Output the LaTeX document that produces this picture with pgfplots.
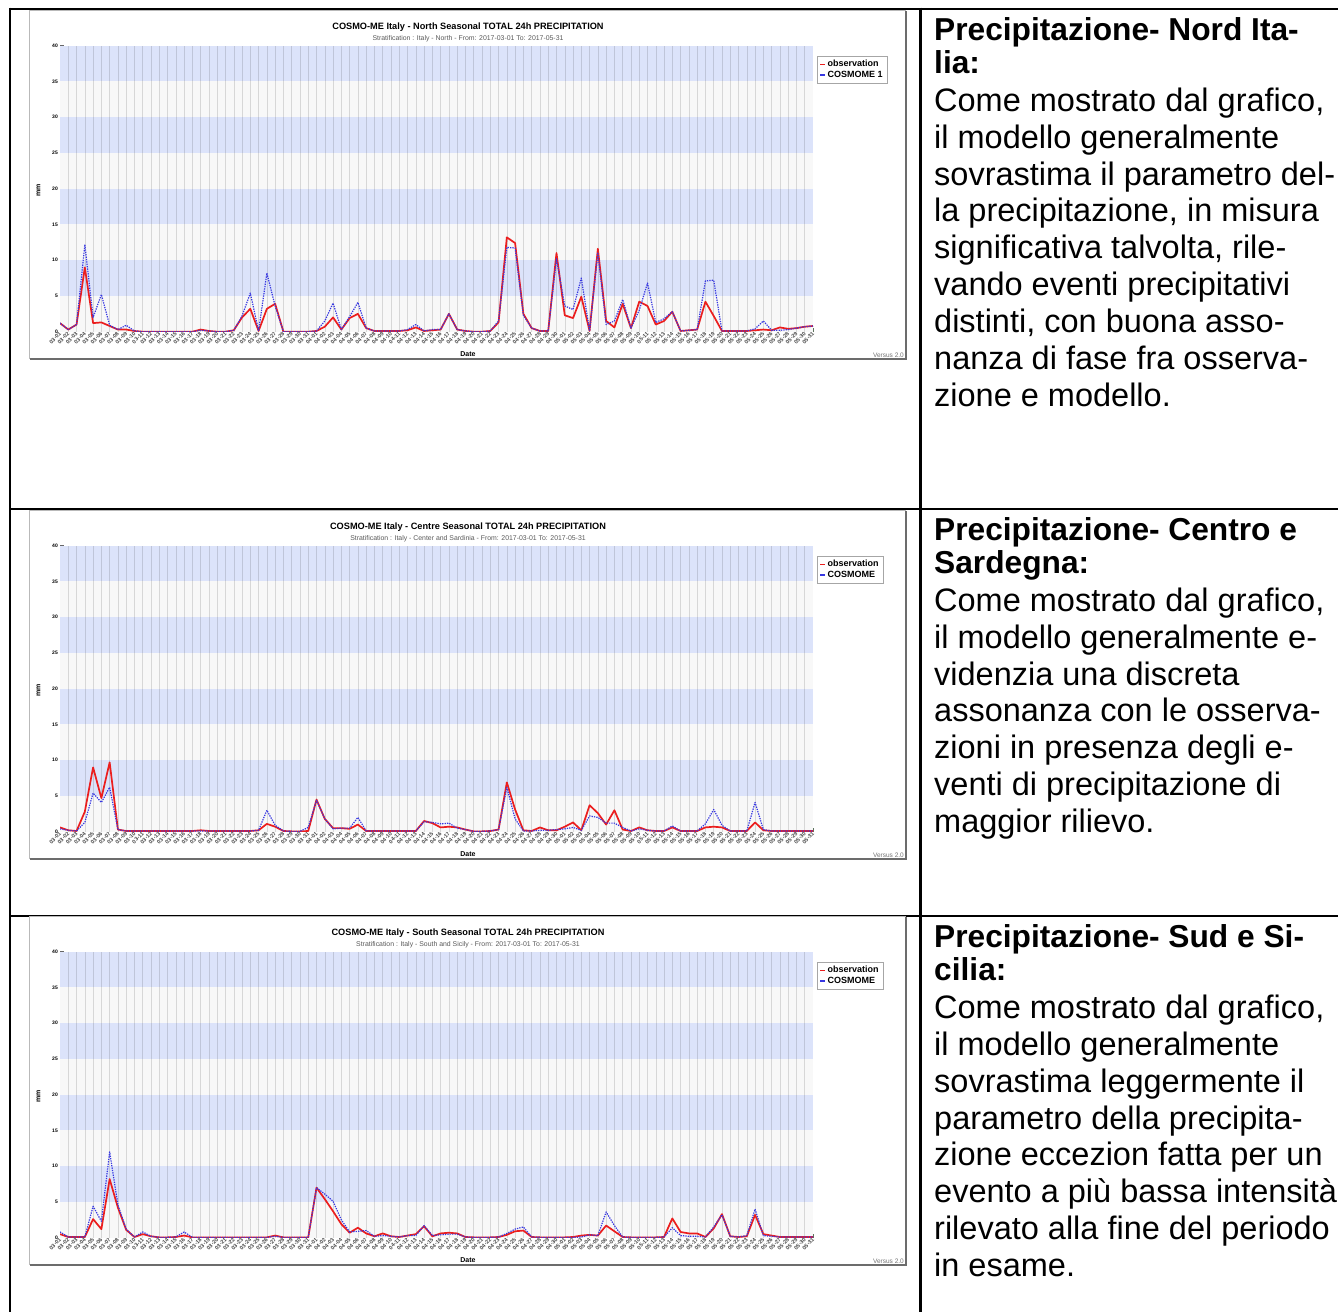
\documentclass[border=0pt]{standalone}
\usepackage{pgfplots}
\pgfplotsset{compat=1.18}
\usepackage{pgfplotstable}
\usepackage{fontspec}
\setmainfont{Liberation Sans}

\definecolor{bandblue}{RGB}{220,227,250}
\definecolor{bandgray}{RGB}{248,248,248}
\definecolor{obsred}{RGB}{235,30,30}
\definecolor{modblue}{RGB}{55,55,225}
\definecolor{tickgreen}{RGB}{95,115,95}

\pgfplotstableread{
x obs mod
0 1.2 1.2
1 0.3 0.3
2 1.0 1.0
3 9.0 12.2
4 1.2 2.0
5 1.3 5.2
6 0.8 0.9
7 0.3 0.3
8 0.3 0.9
9 0.1 0.1
10 0.0 0.0
11 0.0 0.0
12 0.0 0.0
13 0.0 0.0
14 0.0 0.0
15 0.0 0.0
16 0.0 0.0
17 0.3 0.2
18 0.1 0.1
19 0.0 0.0
20 0.0 0.0
21 0.2 0.2
22 2.0 2.2
23 3.2 5.4
24 0.1 0.1
25 3.2 8.2
26 3.9 3.6
27 0.0 0.0
28 0.0 0.0
29 0.0 0.0
30 0.0 0.0
31 0.1 0.1
32 0.7 1.5
33 2.0 4.0
34 0.3 0.3
35 1.9 2.1
36 2.5 4.1
37 0.5 0.5
38 0.1 0.1
39 0.1 0.1
40 0.1 0.1
41 0.1 0.1
42 0.2 0.3
43 0.6 1.0
44 0.1 0.1
45 0.2 0.3
46 0.3 0.3
47 2.5 2.5
48 0.3 0.3
49 0.1 0.1
50 0.0 0.0
51 0.0 0.0
52 0.1 0.1
53 1.3 1.5
54 13.2 11.8
55 12.4 11.7
56 2.5 2.3
57 0.5 0.5
58 0.1 0.1
59 0.1 0.1
60 11.0 10.2
61 2.3 3.6
62 1.9 3.1
63 4.9 7.5
64 0.1 0.1
65 11.6 11.0
66 1.5 1.0
67 0.6 1.5
68 3.9 4.5
69 0.5 0.5
70 4.2 3.0
71 3.6 6.8
72 1.0 1.3
73 1.5 1.8
74 2.8 2.8
75 0.1 0.1
76 0.2 0.2
77 0.3 0.3
78 4.2 7.1
79 2.2 7.2
80 0.1 0.1
81 0.1 0.1
82 0.1 0.1
83 0.1 0.1
84 0.2 0.4
85 0.3 1.5
86 0.2 0.2
87 0.6 0.2
88 0.4 0.3
89 0.5 0.5
90 0.7 0.7
91 0.8 0.8
}\north

\pgfplotstableread{
x obs mod
0 0.6 0.4
1 0.2 0.2
2 0.1 0.1
3 2.8 1.3
4 9.0 5.4
5 4.7 4.1
6 9.7 6.2
7 0.3 0.3
8 0.1 0.1
9 0.1 0.1
10 0.1 0.1
11 0.1 0.1
12 0.1 0.1
13 0.1 0.1
14 0.1 0.1
15 0.1 0.1
16 0.1 0.1
17 0.2 0.1
18 0.1 0.1
19 0.1 0.1
20 0.1 0.1
21 0.1 0.1
22 0.1 0.1
23 0.1 0.1
24 0.2 0.2
25 1.1 3.0
26 0.7 0.9
27 0.1 0.1
28 0.05 0.05
29 0.05 0.05
30 0.1 0.6
31 4.5 4.4
32 1.8 1.8
33 0.5 0.4
34 0.5 0.5
35 0.4 0.5
36 1.0 2.0
37 0.1 0.1
38 0.1 0.1
39 0.1 0.1
40 0.1 0.1
41 0.1 0.1
42 0.1 0.1
43 0.1 0.1
44 1.5 1.4
45 1.2 1.3
46 0.6 1.1
47 0.7 1.2
48 0.6 0.5
49 0.3 0.3
50 0.05 0.05
51 0.05 0.05
52 0.1 0.1
53 0.3 0.3
54 6.9 6.2
55 3.1 1.8
56 0.2 0.1
57 0.1 0.1
58 0.6 0.2
59 0.2 0.2
60 0.2 0.3
61 0.7 0.4
62 1.3 0.6
63 0.2 0.2
64 3.7 2.2
65 2.6 2.0
66 1.0 1.2
67 3.0 1.2
68 0.3 0.6
69 0.1 0.1
70 0.6 0.4
71 0.2 0.2
72 0.1 0.1
73 0.1 0.1
74 0.6 0.8
75 0.1 0.1
76 0.1 0.1
77 0.1 0.1
78 0.6 1.1
79 0.7 3.1
80 0.6 0.9
81 0.1 0.1
82 0.1 0.1
83 0.1 0.1
84 1.3 4.1
85 0.2 0.3
86 0.1 0.1
87 0.1 0.1
88 0.1 0.1
89 0.1 0.1
90 0.1 0.1
91 0.1 0.1
}\centre

\pgfplotstableread{
x obs mod
0 0.5 0.8
1 0.1 0.1
2 0.1 0.1
3 0.1 0.1
4 2.6 4.4
5 1.2 2.3
6 8.2 12.0
7 4.2 4.6
8 1.1 1.2
9 0.1 0.1
10 0.5 0.8
11 0.2 0.2
12 0.05 0.05
13 0.05 0.05
14 0.1 0.1
15 0.3 0.8
16 0.05 0.05
17 0.05 0.05
18 0.05 0.05
19 0.05 0.05
20 0.05 0.05
21 0.05 0.05
22 0.05 0.05
23 0.05 0.05
24 0.05 0.05
25 0.05 0.05
26 0.3 0.2
27 0.05 0.05
28 0.05 0.05
29 0.05 0.05
30 0.05 0.05
31 7.0 7.0
32 5.4 6.1
33 3.7 5.1
34 1.9 2.5
35 0.7 0.8
36 1.4 0.9
37 0.6 1.0
38 0.2 0.2
39 0.6 0.3
40 0.2 0.2
41 0.1 0.1
42 0.3 0.3
43 0.5 0.3
44 1.6 1.7
45 0.2 0.3
46 0.6 0.4
47 0.7 0.5
48 0.6 0.5
49 0.1 0.1
50 0.05 0.05
51 0.05 0.05
52 0.05 0.05
53 0.1 0.1
54 0.4 0.6
55 0.9 1.2
56 1.0 1.5
57 0.1 0.1
58 0.05 0.05
59 0.05 0.05
60 0.05 0.05
61 0.05 0.05
62 0.1 0.05
63 0.3 0.1
64 0.4 0.4
65 0.3 0.3
66 1.7 3.6
67 0.9 1.7
68 0.1 0.1
69 0.05 0.05
70 0.05 0.05
71 0.05 0.05
72 0.05 0.05
73 0.1 0.1
74 2.7 1.4
75 0.8 0.3
76 0.6 0.2
77 0.6 0.2
78 0.1 0.1
79 1.3 1.5
80 3.3 3.2
81 0.2 0.2
82 0.1 0.1
83 0.2 0.3
84 3.2 4.0
85 0.5 0.3
86 0.3 0.2
87 0.1 0.1
88 0.1 0.1
89 0.1 0.1
90 0.1 0.1
91 0.1 0.1
}\south

\pgfplotsset{
  chart/.style={
    scale only axis, width=753bp, height=286bp,
    anchor=south west,
    xmin=0, xmax=91, ymin=0, ymax=40,
    axis x line*=bottom, axis y line*=left,
    axis line style={black!60, line width=0.6bp},
    xtick={0,...,91},
    xticklabels={03-01,03-02,03-03,03-04,03-05,03-06,03-07,03-08,03-09,03-10,03-11,03-12,03-13,03-14,03-15,03-16,03-17,03-18,03-19,03-20,03-21,03-22,03-23,03-24,03-25,03-26,03-27,03-28,03-29,03-30,03-31,04-01,04-02,04-03,04-04,04-05,04-06,04-07,04-08,04-09,04-10,04-11,04-12,04-13,04-14,04-15,04-16,04-17,04-18,04-19,04-20,04-21,04-22,04-23,04-24,04-25,04-26,04-27,04-28,04-29,04-30,05-01,05-02,05-03,05-04,05-05,05-06,05-07,05-08,05-09,05-10,05-11,05-12,05-13,05-14,05-15,05-16,05-17,05-18,05-19,05-20,05-21,05-22,05-23,05-24,05-25,05-26,05-27,05-28,05-29,05-30,05-31},
    x tick label style={rotate=45, anchor=east, font=\fontsize{5.5bp}{5.5bp}\selectfont\bfseries, text=black!70, inner sep=0.6bp, yshift=-1bp},
    ytick={0,5,...,40}, minor y tick num=4,
    y tick label style={font=\fontsize{5bp}{5bp}\selectfont\bfseries, inner sep=2bp},
    /pgf/number format/assume math mode=true,
    x tick style={tickgreen, line width=0.6bp},
    y tick style={black!60, line width=0.5bp},
    tick align=inside,
    major tick length=3.5bp, minor tick length=2bp,
    legend cell align=left,
    legend style={at={(1,1)}, anchor=north west, xshift=4bp, yshift=-10bp,
      font=\fontsize{9bp}{10bp}\selectfont\bfseries, draw=gray!70, line width=0.9bp,
      fill=white, inner xsep=2bp, inner ysep=3.5bp, row sep=2bp,
      nodes={inner xsep=2.5bp, inner ysep=0.5bp}},
    legend image code/.code={\draw[##1, solid, line width=1.2bp] (0bp,0bp) -- (4.5bp,0bp);},
    obs/.style={obsred, line width=1.7bp, line join=round},
    mod/.style={modblue, line width=1.2bp, dash pattern=on 1.3bp off 1.1bp, line join=round},
  }
}

\newcommand\bands{%
  \fill[bandgray] (axis cs:0,0) rectangle (axis cs:91,40);
  \fill[bandblue] (axis cs:0,5) rectangle (axis cs:91,10);
  \fill[bandblue] (axis cs:0,15) rectangle (axis cs:91,20);
  \fill[bandblue] (axis cs:0,25) rectangle (axis cs:91,30);
  \fill[bandblue] (axis cs:0,35) rectangle (axis cs:91,40);
  \pgfplotsinvokeforeach{1,...,90}{\draw[black, opacity=0.13, line width=0.5bp] (axis cs:##1,0) -- (axis cs:##1,40);}
}

\newcommand\chartframe[3]{%
  \begin{scope}[x=1bp,y=-1bp,yshift=-#1bp]
    \draw[gray!55, line width=1bp] (29,10) rectangle (905,358);
    \draw[gray!85!black, line width=1.6bp] (30,359) -- (906,359) -- (906,11);
    \node[font=\fontsize{9.2bp}{9.5bp}\selectfont\bfseries, inner sep=0] at (468,26.7) {#2};
    \node[font=\fontsize{6.9bp}{7bp}\selectfont, text=black!65, inner sep=0] at (468,38.3) {#3};
    \node[font=\fontsize{7bp}{7bp}\selectfont\bfseries, rotate=90, inner sep=0] at (38.5,190) {mm};
    \node[font=\fontsize{7bp}{7bp}\selectfont\bfseries, inner sep=0] at (468,354) {Date};
    \node[font=\fontsize{6.5bp}{7bp}\selectfont, text=black!55, inner sep=0, anchor=east] at (904,355.5) {Versus 2.0};
  \end{scope}}

\newcommand\bodyfont{\fontsize{32.5bp}{36.9bp}\selectfont}
\newcommand\boldfont{\fontsize{31.7bp}{36.9bp}\selectfont\bfseries}
\newcommand\rowtext[4]{% #1 top, #2 bold line1, #3 bold line2, #4 body list
  \begin{scope}[x=1bp,y=-1bp]
    \node[anchor=base west, inner sep=0, font=\boldfont] at (934,{#1+31.5}) {#2};
    \node[anchor=base west, inner sep=0, font=\boldfont] at (934,{#1+65}) {#3};
    \foreach \t [count=\k from 0] in {#4} {
      \node[anchor=base west, inner sep=0, font=\bodyfont] at (934,{#1+102.5+36.9*\k}) {\t};
    }
  \end{scope}}

\begin{document}
\begin{tikzpicture}
\path[use as bounding box] (0,0) rectangle (1338bp,-1312bp);

% table lines
\begin{scope}[x=1bp,y=-1bp]
  \draw[black, line width=2.2bp] (10,8.7) -- (1338,8.7);
  \draw[black, line width=2.2bp] (10,7.6) -- (10,1312);
  \draw[black, line width=2.2bp] (920.5,7.6) -- (920.5,1312);
  \draw[black, line width=2.2bp] (10,508.7) -- (1338,508.7);
  \draw[black, line width=2.2bp] (10,915.8) -- (1338,915.8);
\end{scope}

\chartframe{0}{COSMO-ME Italy - North Seasonal TOTAL 24h PRECIPITATION}{Stratification : Italy - North - From: 2017-03-01 To: 2017-05-31}
\chartframe{500}{COSMO-ME Italy - Centre Seasonal TOTAL 24h PRECIPITATION}{Stratification : Italy - Center and Sardinia - From: 2017-03-01 To: 2017-05-31}
\chartframe{906}{COSMO-ME Italy - South Seasonal TOTAL 24h PRECIPITATION}{Stratification : Italy - South and Sicily - From: 2017-03-01 To: 2017-05-31}

\begin{axis}[chart, at={(60bp,-331.7bp)}]
  \bands
  \addplot[obs] table[x=x, y=obs] {\north};
  \addlegendentry{observation}
  \addplot[mod] table[x=x, y=mod] {\north};
  \addlegendentry{COSMOME 1}
\end{axis}

\begin{axis}[chart, at={(60bp,-831.7bp)}]
  \bands
  \addplot[obs] table[x=x, y=obs] {\centre};
  \addlegendentry{observation}
  \addplot[mod] table[x=x, y=mod] {\centre};
  \addlegendentry{COSMOME}
\end{axis}

\begin{axis}[chart, at={(60bp,-1237.7bp)}]
  \bands
  \addplot[obs] table[x=x, y=obs] {\south};
  \addlegendentry{observation}
  \addplot[mod] table[x=x, y=mod] {\south};
  \addlegendentry{COSMOME}
\end{axis}

\rowtext{8.7}{Precipitazione- Nord Ita-}{lia:}{{Come mostrato dal grafico,},{il modello generalmente},{sovrastima il parametro del-},{la precipitazione, in misura},{significativa talvolta, rile-},{vando eventi precipitativi},{distinti, con buona asso-},{nanza di fase fra osserva-},{zione e modello.}}
\rowtext{508.7}{Precipitazione- Centro e}{Sardegna:}{{Come mostrato dal grafico,},{il modello generalmente e-},{videnzia una discreta},{assonanza con le osserva-},{zioni in presenza degli e-},{venti di precipitazione di},{maggior rilievo.}}
\rowtext{915.8}{Precipitazione- Sud e Si-}{cilia:}{{Come mostrato dal grafico,},{il modello generalmente},{sovrastima leggermente il},{parametro della precipita-},{zione eccezion fatta per un},{evento a più bassa intensità},{rilevato alla fine del periodo},{in esame.}}
\end{tikzpicture}
\end{document}
